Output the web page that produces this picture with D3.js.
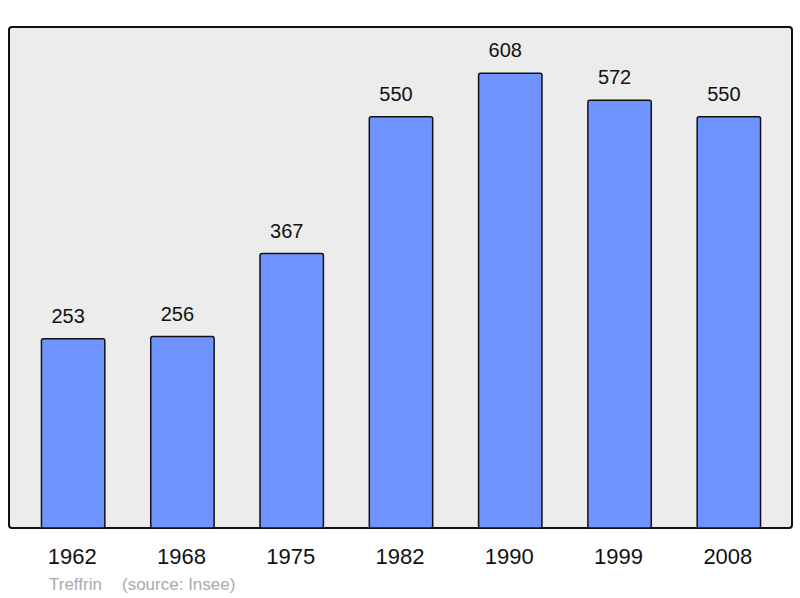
<!DOCTYPE html>
<html>
<head>
<meta charset="utf-8">
<script src="https://cdn.jsdelivr.net/npm/d3@7"></script>
<style>
body { margin: 0; background: #fff; }
text { font-family: "Liberation Sans", Arial, sans-serif; }
</style>
</head>
<body>
<div id="chart"></div>
<script>
var years = ["1962", "1968", "1975", "1982", "1990", "1999", "2008"];
var population = [253, 256, 367, 550, 608, 572, 550];
var commune = "Treffrin";
var source = "(source: Insee)";

var svgWidth = 800;
var svgHeight = 598;
var panel = {left: 9, top: 27, right: 792, bottom: 528};

var svg = d3.select("#chart")
  .append("svg")
  .attr("width", svgWidth)
  .attr("height", svgHeight);

svg.append("rect")
  .attr("x", panel.left)
  .attr("y", panel.top)
  .attr("width", panel.right - panel.left)
  .attr("height", panel.bottom - panel.top)
  .attr("rx", 3)
  .attr("fill", "#ececec")
  .attr("stroke", "#111")
  .attr("stroke-width", 2);

var x = d3.scaleBand()
  .domain(years)
  .range([18.5, 783.5])
  .paddingInner(0.42)
  .paddingOuter(0.21);

var y = d3.scaleLinear()
  .domain([0, 670])
  .range([panel.bottom, panel.top]);

var data = years.map(function(yr, i) { return {year: yr, value: population[i]}; });

svg.selectAll("rect.bar")
  .data(data)
  .enter()
  .append("rect")
  .attr("class", "bar")
  .attr("x", d => x(d.year))
  .attr("y", d => y(d.value))
  .attr("width", x.bandwidth())
  .attr("height", d => panel.bottom - y(d.value))
  .attr("rx", 2)
  .attr("fill", "#7094ff")
  .attr("stroke", "#111")
  .attr("stroke-width", 1.5);

// value labels sit a little left of the bar centre in the original
svg.selectAll("text.val")
  .data(data)
  .enter()
  .append("text")
  .attr("class", "val")
  .attr("x", d => x(d.year) + x.bandwidth() / 2 - 5)
  .attr("y", d => y(d.value) - 16)
  .attr("text-anchor", "middle")
  .attr("font-size", 20)
  .attr("fill", "#111")
  .text(d => d.value);

// year labels, no axis line since the panel border does that
var bottomAxis = d3.axisBottom(x).tickSize(0).tickPadding(0);
var axisG = svg.append("g")
  .attr("transform", `translate(0, ${panel.bottom})`)
  .call(bottomAxis);
axisG.select(".domain").remove();
axisG.selectAll("text")
  .attr("y", 36)
  .attr("dx", -1)
  .attr("dy", 0)
  .attr("font-size", 22)
  .attr("font-family", "Liberation Sans, Arial, sans-serif")
  .attr("fill", "#111");

svg.append("text")
  .attr("x", 49)
  .attr("y", 590)
  .attr("font-size", 17)
  .attr("fill", "#aaa")
  .text(commune);

svg.append("text")
  .attr("x", 122)
  .attr("y", 590)
  .attr("font-size", 17)
  .attr("fill", "#aaa")
  .text(source);
</script>
</body>
</html>
